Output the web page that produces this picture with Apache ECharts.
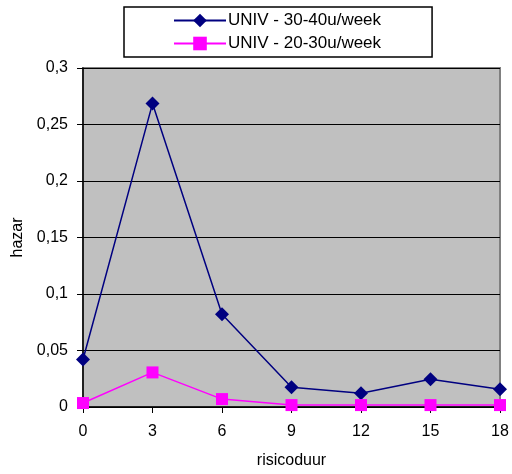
<!DOCTYPE html>
<html>
<head>
<meta charset="utf-8">
<script src="https://cdn.jsdelivr.net/npm/echarts@6/dist/echarts.min.js"></script>
<style>
  html, body { margin: 0; padding: 0; background: #fff; }
  #chart { width: 512px; height: 474px; }
</style>
</head>
<body>
<div id="chart"></div>
<script>
// risk duration (months) on the x axis
const risicoduur = [0, 3, 6, 9, 12, 15, 18];
// hazard per risk duration
const univ3040 = [0.042, 0.2685, 0.082, 0.0175, 0.0122, 0.0245, 0.0157];
const univ2030 = [0.0035, 0.0306, 0.007, 0.0017, 0.0017, 0.0017, 0.0017];
const seriesNames = ['UNIV - 30-40u/week', 'UNIV - 20-30u/week'];

const font = 'Liberation Sans, Arial, sans-serif';
const pairs = vals => risicoduur.map((x, i) => [x, vals[i]]);
const comma = v => String(+v.toFixed(2)).replace('.', ',');

const chart = echarts.init(document.getElementById('chart'), null, { renderer: 'canvas' });
chart.setOption({
  animation: false,
  backgroundColor: '#ffffff',
  grid: {
    left: 83, right: 12, top: 68, bottom: 63,
    show: true, backgroundColor: '#c0c0c0', borderColor: '#808080', borderWidth: 2
  },
  legend: {
    orient: 'vertical',
    left: 124, top: 7,
    padding: [5, 51, 5, 49],
    itemGap: 6,
    itemWidth: 52, itemHeight: 17,
    borderColor: '#000', borderWidth: 1.5,
    backgroundColor: '#fff',
    textStyle: { fontFamily: font, fontSize: 17, color: '#000', padding: [0, 0, 0, -3] },
    data: seriesNames
  },
  xAxis: {
    type: 'value', min: 0, max: 18, interval: 3,
    name: 'risicoduur', nameLocation: 'middle', nameGap: 46,
    nameTextStyle: { fontFamily: font, fontSize: 16, color: '#000' },
    axisLine: { show: true, lineStyle: { color: '#000', width: 1.5 } },
    axisTick: { show: true, length: 6, lineStyle: { color: '#000' } },
    axisLabel: { fontFamily: font, fontSize: 16, color: '#000', margin: 17 },
    splitLine: { show: false }
  },
  yAxis: {
    type: 'value', min: 0, max: 0.3, interval: 0.05,
    name: 'hazar', nameLocation: 'middle', nameGap: 54, nameRotate: 90,
    nameTextStyle: { fontFamily: font, fontSize: 16, color: '#000' },
    axisLine: { show: true, lineStyle: { color: '#000', width: 1.5 } },
    axisTick: { show: true, length: 6, lineStyle: { color: '#000' } },
    axisLabel: { fontFamily: font, fontSize: 16, color: '#000', margin: 15, formatter: comma },
    splitLine: { show: true, lineStyle: { color: '#000', width: 1 } }
  },
  series: [
    {
      name: seriesNames[0], type: 'line', data: pairs(univ3040),
      symbol: 'diamond', symbolSize: 14,
      lineStyle: { color: '#000080', width: 1.5 },
      itemStyle: { color: '#000080' }
    },
    {
      name: seriesNames[1], type: 'line', data: pairs(univ2030),
      symbol: 'rect', symbolSize: 12,
      lineStyle: { color: '#ff00ff', width: 1.5 },
      itemStyle: { color: '#ff00ff' }
    }
  ]
});
</script>
</body>
</html>
